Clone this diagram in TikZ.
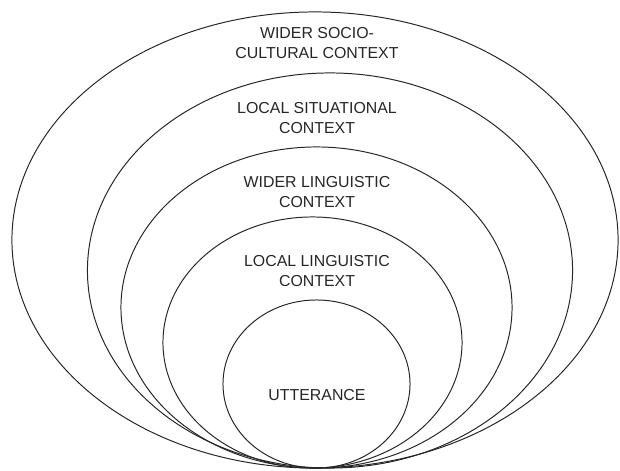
\documentclass[tikz,border=0pt]{standalone}
\usepackage{fontspec}
\setmainfont{Liberation Sans}
\usetikzlibrary{shapes.geometric}

\begin{document}
\begin{tikzpicture}[x=0.025cm, y=-0.025cm,
		ring_style/.style={ellipse,draw=black!85,line width=0.7pt,inner sep=0pt},
		text_style/.style={align=center,text=black!85,font=\fontsize{11.3}{14.2}\selectfont}]

		\useasboundingbox (0,0) rectangle (620,471);

		\node[ring_style,minimum width=15.15cm,minimum height=11.4cm]   (r1) at (315,240)    {};
		\node[ring_style,minimum width=12.125cm,minimum height=9.875cm] (r2) at (330,270.5)  {};
		\node[ring_style,minimum width=9.775cm,minimum height=8.025cm]  (r3) at (316.5,307.5){};
		\node[ring_style,minimum width=7.475cm,minimum height=6.275cm]  (r4) at (312.5,342.5){};
		\node[ring_style,minimum width=4.675cm,minimum height=4.2cm]    (r5) at (316.5,384)  {};

		\node[text_style] (t1) at (317,43)    {WIDER SOCIO-\\CULTURAL CONTEXT};
		\node[text_style] (t2) at (317,118)   {LOCAL SITUATIONAL\\CONTEXT};
		\node[text_style] (t3) at (317,192.5) {WIDER LINGUISTIC\\CONTEXT};
		\node[text_style] (t4) at (317,271)   {LOCAL LINGUISTIC\\CONTEXT};
		\node[text_style] (t5) at (317,395)   {UTTERANCE};
\end{tikzpicture}
\end{document}
